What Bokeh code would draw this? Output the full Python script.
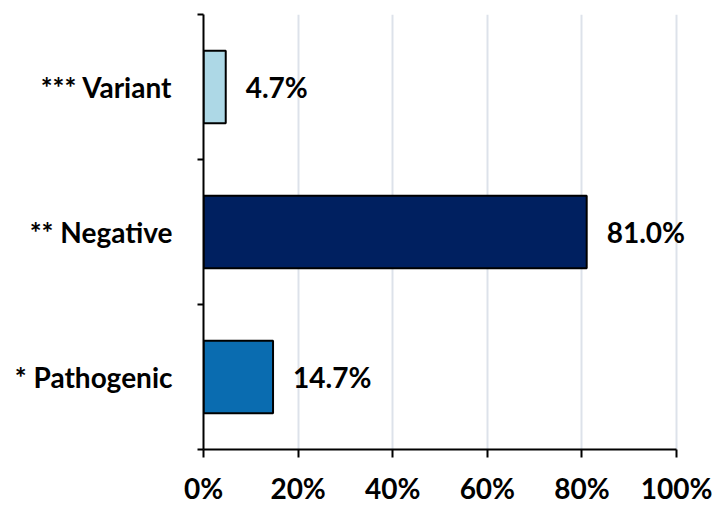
from bokeh.plotting import figure
from bokeh.models import ColumnDataSource, FixedTicker, NumeralTickFormatter, LabelSet, Range1d
from bokeh.core.properties import value
from bokeh.embed import file_html
from bokeh.resources import INLINE

# Data (bottom to top)
categories = ["Pathogenic", "Negative", "Variant"]
markers = ["*", "**", "***"]
values = [0.147, 0.810, 0.047]
value_labels = ["14.7%", "81.0%", "4.7%"]
colors = ["#0a6cb0", "#002060", "#add8e6"]
x_ticks = [0, 0.2, 0.4, 0.6, 0.8, 1.0]

ypos = [i + 0.5 for i in range(len(categories))]
source = ColumnDataSource(dict(y=ypos, v=values, lab=value_labels, c=colors))

FONT = "Lato"
FS = "28px"

p = figure(width=713, height=507, output_backend="svg", toolbar_location=None,
           x_range=Range1d(0, 1.04), y_range=Range1d(0, len(categories)),
           min_border_left=203, min_border_right=18, min_border_top=14, min_border_bottom=55)
p.outline_line_color = None
p.background_fill_color = "white"
p.border_fill_color = "white"

p.hbar(y="y", right="v", left=0, height=0.5, fill_color="c", line_color="black",
       line_width=2, source=source)

labels = LabelSet(x="v", y="y", text="lab", source=source, x_offset=20,
                  text_baseline="middle", text_align="left", text_font=value(FONT),
                  text_font_style="bold", text_font_size=FS, text_color="black")
p.add_layout(labels)

# x axis
p.xaxis.ticker = FixedTicker(ticks=x_ticks)
p.xaxis.bounds = (0, 1.0)
p.xaxis.formatter = NumeralTickFormatter(format="0%")
p.xaxis.major_label_text_font = FONT
p.xaxis.major_label_text_font_style = "bold"
p.xaxis.major_label_text_font_size = FS
p.xaxis.major_label_text_color = "black"
p.xaxis.major_label_standoff = 13
p.xaxis.major_tick_out = 8
p.xaxis.major_tick_in = 0
p.xaxis.minor_tick_out = 0
p.xaxis.minor_tick_in = 0
p.xaxis.axis_line_width = 2
p.xaxis.major_tick_line_width = 2
p.xaxis.axis_line_color = "black"
p.xaxis.major_tick_line_color = "black"

# y axis: labels at category centres, ticks at boundaries
p.yaxis.ticker = FixedTicker(ticks=ypos, minor_ticks=list(range(len(categories) + 1)))
p.yaxis.major_label_overrides = {y: f"{m} {c}" for y, m, c in zip(ypos, markers, categories)}
p.yaxis.major_label_text_font = FONT
p.yaxis.major_label_text_font_style = "bold"
p.yaxis.major_label_text_font_size = FS
p.yaxis.major_label_text_color = "black"
p.yaxis.major_label_standoff = 25
p.yaxis.major_tick_out = 0
p.yaxis.major_tick_in = 0
p.yaxis.minor_tick_out = 6
p.yaxis.minor_tick_in = 0
p.yaxis.minor_tick_line_width = 2
p.yaxis.minor_tick_line_color = "black"
p.yaxis.axis_line_width = 2
p.yaxis.axis_line_color = "black"

p.ygrid.grid_line_color = None
p.xgrid.grid_line_color = "#dde2ea"
p.xgrid.grid_line_width = 2

open("out.html", "w").write(file_html(p, INLINE))
